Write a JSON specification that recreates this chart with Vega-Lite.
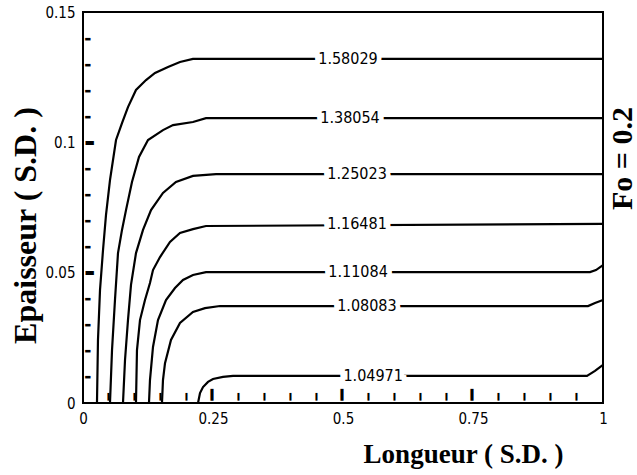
{
  "$schema": "https://vega.github.io/schema/vega-lite/v6.json",
  "width": 520,
  "height": 391,
  "autosize": "none",
  "padding": {"left": 83, "top": 12, "right": 34, "bottom": 72},
  "background": "white",
  "config": {
    "view": {"stroke": "black", "strokeWidth": 2},
    "font": "DejaVu Sans Condensed, Liberation Sans, sans-serif"
  },
  "datasets": {
    "curves": [
      {"c": "1.58029", "x": 0.0269, "y": 0},
      {"c": "1.58029", "x": 0.0288, "y": 0.0242},
      {"c": "1.58029", "x": 0.0327, "y": 0.0433},
      {"c": "1.58029", "x": 0.0385, "y": 0.0587},
      {"c": "1.58029", "x": 0.0442, "y": 0.0721},
      {"c": "1.58029", "x": 0.0519, "y": 0.0855},
      {"c": "1.58029", "x": 0.0635, "y": 0.1009},
      {"c": "1.58029", "x": 0.075, "y": 0.1074},
      {"c": "1.58029", "x": 0.0865, "y": 0.1135},
      {"c": "1.58029", "x": 0.1019, "y": 0.1201},
      {"c": "1.58029", "x": 0.1212, "y": 0.1239},
      {"c": "1.58029", "x": 0.1385, "y": 0.1266},
      {"c": "1.58029", "x": 0.1635, "y": 0.1289},
      {"c": "1.58029", "x": 0.1865, "y": 0.1308},
      {"c": "1.58029", "x": 0.2115, "y": 0.132},
      {"c": "1.58029", "x": 1.0, "y": 0.132},
      {"c": "1.38054", "x": 0.0519, "y": 0},
      {"c": "1.38054", "x": 0.0558, "y": 0.0203},
      {"c": "1.38054", "x": 0.0615, "y": 0.0395},
      {"c": "1.38054", "x": 0.0673, "y": 0.0575},
      {"c": "1.38054", "x": 0.075, "y": 0.0664},
      {"c": "1.38054", "x": 0.0827, "y": 0.074},
      {"c": "1.38054", "x": 0.0942, "y": 0.0848},
      {"c": "1.38054", "x": 0.1077, "y": 0.0944},
      {"c": "1.38054", "x": 0.125, "y": 0.1009},
      {"c": "1.38054", "x": 0.1538, "y": 0.1047},
      {"c": "1.38054", "x": 0.1731, "y": 0.1066},
      {"c": "1.38054", "x": 0.2115, "y": 0.1078},
      {"c": "1.38054", "x": 0.2365, "y": 0.1093},
      {"c": "1.38054", "x": 1.0, "y": 0.1093},
      {"c": "1.25023", "x": 0.0769, "y": 0},
      {"c": "1.25023", "x": 0.0808, "y": 0.0165},
      {"c": "1.25023", "x": 0.0865, "y": 0.0318},
      {"c": "1.25023", "x": 0.0923, "y": 0.0453},
      {"c": "1.25023", "x": 0.1019, "y": 0.0575},
      {"c": "1.25023", "x": 0.1154, "y": 0.0664},
      {"c": "1.25023", "x": 0.1308, "y": 0.074},
      {"c": "1.25023", "x": 0.1538, "y": 0.0806},
      {"c": "1.25023", "x": 0.1788, "y": 0.0848},
      {"c": "1.25023", "x": 0.2115, "y": 0.0871},
      {"c": "1.25023", "x": 0.2558, "y": 0.0878},
      {"c": "1.25023", "x": 1.0, "y": 0.0878},
      {"c": "1.16481", "x": 0.1019, "y": 0},
      {"c": "1.16481", "x": 0.1038, "y": 0.0203},
      {"c": "1.16481", "x": 0.1096, "y": 0.0318},
      {"c": "1.16481", "x": 0.1192, "y": 0.0395},
      {"c": "1.16481", "x": 0.1288, "y": 0.046},
      {"c": "1.16481", "x": 0.1346, "y": 0.051},
      {"c": "1.16481", "x": 0.1481, "y": 0.056},
      {"c": "1.16481", "x": 0.1673, "y": 0.0618},
      {"c": "1.16481", "x": 0.1865, "y": 0.0652},
      {"c": "1.16481", "x": 0.2115, "y": 0.0667},
      {"c": "1.16481", "x": 0.2365, "y": 0.0679},
      {"c": "1.16481", "x": 1.0, "y": 0.0687},
      {"c": "1.11084", "x": 0.1269, "y": 0},
      {"c": "1.11084", "x": 0.1288, "y": 0.0088},
      {"c": "1.11084", "x": 0.1346, "y": 0.0215},
      {"c": "1.11084", "x": 0.1442, "y": 0.0318},
      {"c": "1.11084", "x": 0.1596, "y": 0.0395},
      {"c": "1.11084", "x": 0.1769, "y": 0.0441},
      {"c": "1.11084", "x": 0.1923, "y": 0.0472},
      {"c": "1.11084", "x": 0.2115, "y": 0.0491},
      {"c": "1.11084", "x": 0.2365, "y": 0.0502},
      {"c": "1.11084", "x": 0.975, "y": 0.0502},
      {"c": "1.11084", "x": 0.9865, "y": 0.051},
      {"c": "1.11084", "x": 1.0, "y": 0.0529},
      {"c": "1.08083", "x": 0.1519, "y": 0},
      {"c": "1.08083", "x": 0.1538, "y": 0.0088},
      {"c": "1.08083", "x": 0.1577, "y": 0.0153},
      {"c": "1.08083", "x": 0.1692, "y": 0.0242},
      {"c": "1.08083", "x": 0.1865, "y": 0.0307},
      {"c": "1.08083", "x": 0.2115, "y": 0.0349},
      {"c": "1.08083", "x": 0.2346, "y": 0.0364},
      {"c": "1.08083", "x": 0.2635, "y": 0.0372},
      {"c": "1.08083", "x": 0.9712, "y": 0.0372},
      {"c": "1.08083", "x": 0.9846, "y": 0.0384},
      {"c": "1.08083", "x": 1.0, "y": 0.0395},
      {"c": "1.04971", "x": 0.2212, "y": 0},
      {"c": "1.04971", "x": 0.225, "y": 0.0038},
      {"c": "1.04971", "x": 0.2308, "y": 0.0061},
      {"c": "1.04971", "x": 0.2404, "y": 0.0081},
      {"c": "1.04971", "x": 0.25, "y": 0.0092},
      {"c": "1.04971", "x": 0.2692, "y": 0.01},
      {"c": "1.04971", "x": 0.2885, "y": 0.0104},
      {"c": "1.04971", "x": 0.9692, "y": 0.0104},
      {"c": "1.04971", "x": 0.9846, "y": 0.0123},
      {"c": "1.04971", "x": 1.0, "y": 0.0146}
    ],
    "labels": [
      {"label": "1.58029", "x": 0.5096, "y": 0.132},
      {"label": "1.38054", "x": 0.5135, "y": 0.1093},
      {"label": "1.25023", "x": 0.527, "y": 0.0878},
      {"label": "1.16481", "x": 0.527, "y": 0.0687},
      {"label": "1.11084", "x": 0.529, "y": 0.0502},
      {"label": "1.08083", "x": 0.546, "y": 0.0372},
      {"label": "1.04971", "x": 0.558, "y": 0.0104}
    ]
  },
  "layer": [
    {
      "data": {"name": "curves"},
      "mark": {"type": "line", "color": "black", "strokeWidth": 2.2, "interpolate": "linear"},
      "encoding": {
        "x": {
          "field": "x", "type": "quantitative",
          "scale": {"domain": [0, 1], "nice": false, "zero": false},
          "axis": {
            "orient": "bottom", "zindex": 1,
            "values": [0, 0.25, 0.5, 0.75, 1],
            "labelExpr": "toString(round(datum.value*100)/100)",
            "ticks": false, "domain": false, "grid": false,
            "labelFont": "DejaVu Sans Condensed, Liberation Sans, sans-serif", "labelFontSize": 15, "labelColor": "black",
            "labelPadding": 8, "labelOverlap": false, "labelFlush": false,
            "title": "Longueur ( S.D. )",
            "titleFont": "Liberation Serif", "titleFontWeight": "bold", "titleFontSize": 27, "titleColor": "black",
            "titleX": 380, "titleY": 59, "titleBaseline": "alphabetic", "titleAlign": "center"
          }
        },
        "y": {
          "field": "y", "type": "quantitative",
          "scale": {"domain": [0, 0.15], "nice": false, "zero": false},
          "axis": {
            "orient": "left", "zindex": 1,
            "values": [0, 0.05, 0.1, 0.15],
            "labelExpr": "toString(round(datum.value*100)/100)",
            "ticks": false, "domain": false, "grid": false,
            "labelFont": "DejaVu Sans Condensed, Liberation Sans, sans-serif", "labelFontSize": 15, "labelColor": "black",
            "labelPadding": 8, "labelOverlap": false, "labelFlush": false,
            "title": "Epaisseur ( S.D. )",
            "titleFont": "Liberation Serif", "titleFontWeight": "bold", "titleFontSize": 32, "titleColor": "black",
            "titleAngle": 270, "titleX": -48, "titleY": 213, "titleBaseline": "alphabetic", "titleAlign": "center"
          }
        },
        "detail": {"field": "c", "type": "nominal"}
      }
    },
    {
      "data": {"name": "labels"},
      "mark": {"type": "text", "fill": "white", "stroke": "white", "strokeWidth": 9, "font": "DejaVu Sans Condensed, Liberation Sans, sans-serif", "fontSize": 16, "baseline": "middle", "align": "center"},
      "encoding": {
        "x": {
          "field": "x", "type": "quantitative",
          "axis": {
            "orient": "bottom", "zindex": 1,
            "values": [0.05, 0.1, 0.15, 0.2, 0.3, 0.35, 0.4, 0.45, 0.55, 0.6, 0.65, 0.7, 0.8, 0.85, 0.9, 0.95],
            "labelExpr": "'▌'",
            "labelFont": "DejaVu Sans Mono", "labelFontSize": 6.5,
            "labelColor": "black", "labelAlign": "center", "labelBaseline": "bottom",
            "labelPadding": -4, "labelOverlap": false, "labelFlush": false, "labelBound": false,
            "ticks": false, "domain": false, "grid": false, "title": null
          }
        },
        "y": {
          "field": "y", "type": "quantitative",
          "axis": {
            "orient": "left", "zindex": 1,
            "values": [0.01, 0.02, 0.03, 0.04, 0.06, 0.07, 0.08, 0.09, 0.11, 0.12, 0.13, 0.14],
            "labelExpr": "'▬'",
            "labelFont": "DejaVu Sans", "labelFontSize": 7,
            "labelColor": "black", "labelAlign": "left", "labelBaseline": "middle",
            "labelPadding": -1, "labelOverlap": false, "labelFlush": false, "labelBound": false,
            "ticks": false, "domain": false, "grid": false, "title": null
          }
        },
        "text": {"field": "label", "type": "nominal"}
      }
    },
    {
      "data": {"name": "labels"},
      "mark": {"type": "text", "fill": "white", "stroke": "white", "strokeWidth": 9, "font": "DejaVu Sans Condensed, Liberation Sans, sans-serif", "fontSize": 16, "baseline": "middle", "align": "center"},
      "encoding": {
        "x": {
          "field": "x", "type": "quantitative",
          "axis": {
            "orient": "bottom", "zindex": 1,
            "values": [0.25, 0.5, 0.75],
            "labelExpr": "'▌'",
            "labelFont": "DejaVu Sans Mono", "labelFontSize": 10,
            "labelColor": "black", "labelAlign": "center", "labelBaseline": "bottom",
            "labelPadding": -4, "labelOverlap": false, "labelFlush": false, "labelBound": false,
            "ticks": false, "domain": false, "grid": false, "title": null
          }
        },
        "y": {
          "field": "y", "type": "quantitative",
          "axis": {
            "orient": "left", "zindex": 1,
            "values": [0.05, 0.1],
            "labelExpr": "'▬'",
            "labelFont": "DejaVu Sans", "labelFontSize": 11,
            "labelColor": "black", "labelAlign": "left", "labelBaseline": "middle",
            "labelPadding": -1, "labelOverlap": false, "labelFlush": false, "labelBound": false,
            "ticks": false, "domain": false, "grid": false, "title": null
          }
        },
        "text": {"field": "label", "type": "nominal"}
      }
    },
    {
      "data": {"name": "labels"},
      "mark": {"type": "text", "color": "black", "font": "DejaVu Sans Condensed, Liberation Sans, sans-serif", "fontSize": 16, "baseline": "middle", "align": "center"},
      "encoding": {
        "x": {"field": "x", "type": "quantitative", "axis": null},
        "y": {
          "field": "y", "type": "quantitative",
          "axis": {
            "orient": "right", "labels": false, "ticks": false, "domain": false, "grid": false,
            "title": "Fo = 0.2",
            "titleFont": "Liberation Serif", "titleFontWeight": "bold", "titleFontSize": 30, "titleColor": "black",
            "titleAngle": 270, "titleX": 28, "titleY": 146, "titleBaseline": "alphabetic", "titleAlign": "center"
          }
        },
        "text": {"field": "label", "type": "nominal"}
      }
    }
  ],
  "resolve": {"axis": {"x": "independent", "y": "independent"}}
}
